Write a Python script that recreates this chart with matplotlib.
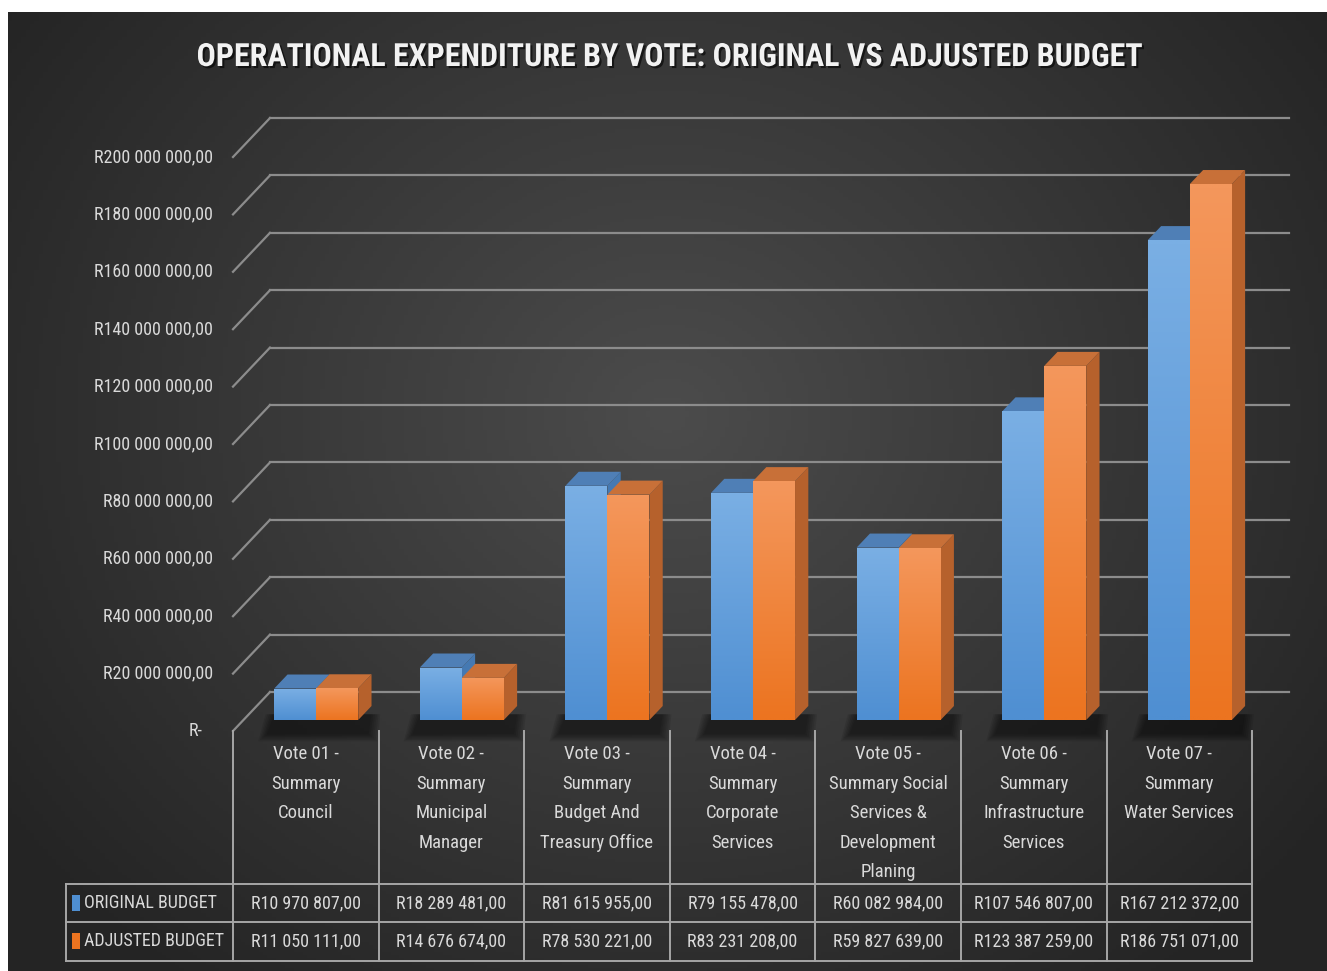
import numpy as np
import matplotlib
matplotlib.use("Agg")
import matplotlib.pyplot as plt
from matplotlib import font_manager
from matplotlib.font_manager import FontProperties
from matplotlib.patches import Polygon, Rectangle
from matplotlib.colors import to_rgb
import matplotlib.patheffects as pe

# ---- data ----
categories = [
    "Vote 01 -\nSummary\nCouncil",
    "Vote 02 -\nSummary\nMunicipal\nManager",
    "Vote 03 -\nSummary\nBudget And\nTreasury Office",
    "Vote 04 -\nSummary\nCorporate\nServices",
    "Vote 05 -\nSummary Social\nServices &\nDevelopment\nPlaning",
    "Vote 06 -\nSummary\nInfrastructure\nServices",
    "Vote 07 -\nSummary\nWater Services",
]
original = [10970807.00, 18289481.00, 81615955.00, 79155478.00, 60082984.00, 107546807.00, 167212372.00]
adjusted = [11050111.00, 14676674.00, 78530221.00, 83231208.00, 59827639.00, 123387259.00, 186751071.00]
series_names = ["ORIGINAL BUDGET", "ADJUSTED BUDGET"]
yticks = [0, 20e6, 40e6, 60e6, 80e6, 100e6, 120e6, 140e6, 160e6, 180e6, 200e6]


def pick_font(names):
    for n in names:
        try:
            font_manager.findfont(FontProperties(family=n), fallback_to_default=False)
            return n, True
        except ValueError:
            continue
    return "Liberation Sans", False


FONT, narrow = pick_font(["Liberation Sans Narrow", "DejaVu Sans Condensed", "Roboto Condensed"])
FS = 13 if narrow else 11


def rand(v):
    if v == 0:
        return "R-"
    return "R" + f"{v:,.2f}".replace(",", " ").replace(".", ",")


# ---- layout (pixels) ----
W, H = 1327, 971
X0, COLW = 233, 145.6        # front plane left edge, width of one category
Y0, PXR = 731, 2.87e-6       # zero line, pixels per rand
AX_L, AX_R, AX_T, AX_B = 233, 1300, 90, 745

fig = plt.figure(figsize=(W / 100, H / 100), dpi=100, facecolor="white")

# background gradient
bg = fig.add_axes([8 / W, 0, (W - 8) / W, (H - 12) / H])
yy, xx = np.mgrid[0:1:300j, 0:1:300j]
r = np.sqrt(((xx - 0.5) / 0.62) ** 2 + ((yy - 0.42) / 0.75) ** 2)
r = np.clip(r, 0, 1)
shade = 0x4c / 255 * (1 - r) + 0x24 / 255 * r
bg.imshow(np.dstack([shade] * 3), extent=[0, 1, 0, 1], origin="upper", aspect="auto")
bg.axis("off")

ax = fig.add_axes([AX_L / W, 1 - AX_B / H, (AX_R - AX_L) / W, (AX_B - AX_T) / H])
ax.patch.set_alpha(0)
xlim = (0, (AX_R - AX_L) / COLW)
ylim = ((Y0 - AX_B) / PXR, (Y0 - AX_T) / PXR)
ax.set_autoscale_on(False)
ax.set_xlim(xlim)
ax.set_ylim(ylim)
ax.axis("off")

n = len(categories)
DX, DY = 37 / COLW, 39 / PXR          # full depth of the box
f_front = 11 / 39                      # bar front face depth
f_depth = 14 / 39                      # bar depth
bdx, bdy = f_front * DX, f_front * DY
tdx, tdy = f_depth * DX, f_depth * DY
bw = 42 / COLW

grid_c = "#8c8c8c"
for v in yticks:
    ax.plot([0, DX], [v, v + DY], color=grid_c, lw=1.6, clip_on=False, zorder=1)
    ax.plot([DX, n + DX], [v + DY, v + DY], color=grid_c, lw=1.6, clip_on=False, zorder=1)
    xoff = -20 if v else -30
    ax.text(xoff / COLW, v, rand(v), ha="right", va="center", color="#d9d9d9",
            fontsize=FS, family=FONT, clip_on=False)

x = np.arange(n)


def gradient(patch, c_top, c_bot):
    x0, y0 = patch.get_x(), patch.get_y()
    x1, y1 = x0 + patch.get_width(), y0 + patch.get_height()
    g = np.linspace(0, 1, 64)[:, None, None]
    img = np.array(to_rgb(c_top)) * (1 - g) + np.array(to_rgb(c_bot)) * g
    im = ax.imshow(img, extent=[x0, x1, y0, y1], origin="upper", aspect="auto",
                   interpolation="bilinear", zorder=3)
    im.set_clip_path(patch)


# soft shadows on the floor
for i in range(n):
    xl = i + 0.5 + bdx - bw
    xr = i + 0.5 + bdx + bw + tdx
    for k in range(6):
        e = k * 0.012
        ax.add_patch(Polygon([(xl - 0.05 - e, bdy - 5e6 - e * 40e6), (xr - 0.02 + e, bdy - 5e6 - e * 40e6),
                              (xr + e, bdy + 2e6), (xl - e, bdy + 2e6)],
                             closed=True, fc="black", ec="none", alpha=0.09, zorder=2))

styles = [
    dict(front=("#7aafe4", "#4f8fd2"), top="#4f7fb6", side=("#4579b2", "#3a6aa0")),
    dict(front=("#f4975c", "#ec7420"), top="#c87038", side=("#b6612c", "#a2500f")),
]
for s, (vals, st) in enumerate(zip([original, adjusted], styles)):
    left = x + 0.5 + bdx - bw + s * bw
    bars = ax.bar(left, vals, width=bw, bottom=bdy, align="edge",
                  color=st["front"][1], edgecolor="none", zorder=3)
    for rect, v in zip(bars, vals):
        xl, xr = rect.get_x(), rect.get_x() + bw
        top = bdy + v
        ax.add_patch(Polygon([(xr, bdy), (xr, top), (xr + tdx, top + tdy), (xr + tdx, bdy + tdy)],
                             closed=True, fc=st["side"][0], ec="none", zorder=3))
        ax.add_patch(Polygon([(xl, top), (xr, top), (xr + tdx, top + tdy), (xl + tdx, top + tdy)],
                             closed=True, fc=st["top"], ec="none", zorder=3))
        gradient(rect, *st["front"])

# ---- data table ----
tax = fig.add_axes([AX_L / W, 1 - 965 / H, (AX_R - AX_L) / W, (965 - 725) / H])
tax.set_xlim(xlim)
tax.set_ylim(965, 725)
tax.axis("off")
tab_c = "#a6a6a6"
lx = (66 - X0) / COLW
for i in range(n + 1):
    tax.plot([i, i], [731, 961], color=tab_c, lw=1.4, clip_on=False)
tax.plot([lx, lx], [884, 961], color=tab_c, lw=1.4, clip_on=False)
for yl in [884, 922, 961]:
    tax.plot([lx, n], [yl, yl], color=tab_c, lw=1.4, clip_on=False)

for i, lab in enumerate(categories):
    for j, line in enumerate(lab.split("\n")):
        tax.text(i + 0.5, 754 + j * 29.5, line, ha="center", va="center",
                 color="#d9d9d9", fontsize=FS + 0.5, family=FONT, clip_on=False)

row_y = [903, 941]
for name, vals, st, ry in zip(series_names, [original, adjusted], styles, row_y):
    tax.add_patch(Rectangle(((72 - X0) / COLW, ry - 8), 8 / COLW, 16, fc=st["front"][1],
                            ec="none", clip_on=False))
    tax.text((84 - X0) / COLW, ry, name, ha="left", va="center", color="#d9d9d9",
             fontsize=FS, family=FONT, clip_on=False)
    for i, v in enumerate(vals):
        tax.text(i + 0.5, ry, rand(v), ha="center", va="center", color="#d9d9d9",
                 fontsize=FS, family=FONT, clip_on=False)

fig.text(671 / W, 1 - 57 / H, "OPERATIONAL EXPENDITURE BY VOTE: ORIGINAL VS ADJUSTED BUDGET",
         ha="center", va="center", color="#f2f2f2", fontsize=23 if narrow else 18,
         weight="bold", family=FONT,
         path_effects=[pe.withSimplePatchShadow(offset=(1.5, -1.5), shadow_rgbFace="black", alpha=0.6)])

fig.savefig("out.png", dpi=100, facecolor="white")
